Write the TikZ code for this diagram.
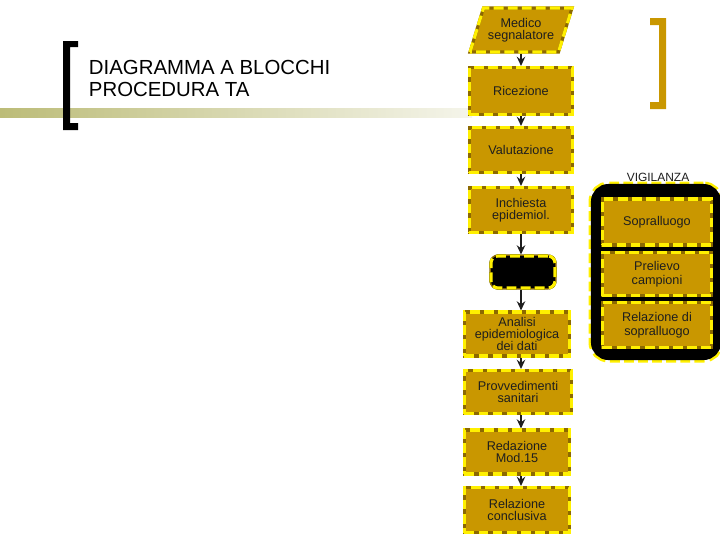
\documentclass[tikz,border=0pt]{standalone}
\usepackage{fontspec}
\setmainfont{Liberation Sans}
\usepackage{tikz}
\usepackage{xcolor}
\usetikzlibrary{shapes.geometric, arrows.meta}

\definecolor{boxfill}{RGB}{201,151,0}
\definecolor{boxedge}{RGB}{140,105,0}
\definecolor{dashyel}{RGB}{255,240,0}
\definecolor{bandcol}{RGB}{188,188,120}
\definecolor{txt}{RGB}{30,30,30}

\begin{document}
\begin{tikzpicture}[x=0.025cm, y=-0.025cm,
    blocco/.style={rectangle, draw=dashyel, dash pattern=on 7pt off 3pt, line width=2.2pt,
        preaction={fill=boxfill, draw=boxedge, solid}, inner sep=1pt, align=center,
        text=txt, font=\fontsize{9}{8.5}\selectfont},
    freccia/.style={-{Stealth[length=6.5pt, width=6pt]}, line width=1.2pt, draw=txt}]
    \useasboundingbox (0,0) rectangle (720,540);
    \shade[left color=bandcol, right color=bandcol!15] (0,108) rectangle (472,117);
    \fill (63,41) -- (78,41) -- (78,47) -- (70,47) -- (70,123) -- (78,123) -- (78,130) -- (63,130) -- cycle;
    \fill[boxfill] (666,18) -- (650,18) -- (650,25) -- (659,25) -- (659,102) -- (650,102) -- (650,109) -- (666,109) -- cycle;
    \node[anchor=base west, align=left, font=\fontsize{14.5}{15.6}\selectfont] (titolo) at (84,96)
        {DIAGRAMMA A BLOCCHI\\PROCEDURA TA};

    \node[blocco, trapezium, trapezium left angle=65, trapezium right angle=115, trapezium stretches=true,
        minimum width=2.55cm, minimum height=1.1cm] (med) at (521,30) {Medico\\segnalatore};
    \node[blocco, minimum width=2.575cm, minimum height=1.175cm] (ric) at (521,91) {Ricezione};
    \node[blocco, minimum width=2.575cm, minimum height=1.125cm] (val) at (521,150) {Valutazione};
    \node[blocco, minimum width=2.575cm, minimum height=1.125cm] (inc) at (521,210) {Inchiesta\\epidemiol.};
    \node[blocco, rounded corners=5pt, preaction={fill=black, draw=black}, minimum width=1.6cm,
        minimum height=0.8cm] (nero) at (523,272) {};
    \node[blocco, minimum width=2.625cm, minimum height=1.1cm] (ana) at (517,334) {Analisi\\epidemiologica\\dei dati};
    \node[blocco, minimum width=2.675cm, minimum height=1.075cm] (prov) at (518,392) {Provvedimenti\\sanitari};
    \node[blocco, minimum width=2.625cm, minimum height=1.1cm] (red) at (517,452) {Redazione\\Mod.15};
    \node[blocco, minimum width=2.625cm, minimum height=1.125cm] (rel) at (517,510) {Relazione\\conclusiva};

    \node[font=\fontsize{8.5}{10}\selectfont, text=txt] (vig) at (658,177) {VIGILANZA};
    \node[rounded corners=10pt, draw=black, fill=black, line width=5pt, minimum width=3.075cm, minimum height=4.225cm,
        preaction={draw=dashyel, line width=8.5pt, dash pattern=on 7pt off 3pt}] (cont) at (656,272) {};
    \node[blocco, minimum width=2.725cm, minimum height=1.15cm] (sop) at (657,222) {Sopralluogo};
    \node[blocco, font=\fontsize{9}{10}\selectfont, minimum width=2.725cm, minimum height=1.075cm] (pre) at (657,274) {Prelievo\\campioni};
    \node[blocco, font=\fontsize{9}{10}\selectfont, minimum width=2.725cm, minimum height=1.125cm] (rsop) at (657,325) {Relazione di\\sopralluogo};

    \draw[freccia] (med.south) -- (med.south |- ric.north);
    \draw[freccia] (ric.south) -- (ric.south |- val.north);
    \draw[freccia] (val.south) -- (val.south |- inc.north);
    \draw[freccia] (inc.south) -- (inc.south |- nero.north);
    \draw[freccia] (nero.south -| inc.south) -- (inc.south |- ana.north);
    \draw[freccia] (inc.south |- ana.south) -- (inc.south |- prov.north);
    \draw[freccia] (inc.south |- prov.south) -- (inc.south |- red.north);
    \draw[freccia] (inc.south |- red.south) -- (inc.south |- rel.north);
\end{tikzpicture}
\end{document}
